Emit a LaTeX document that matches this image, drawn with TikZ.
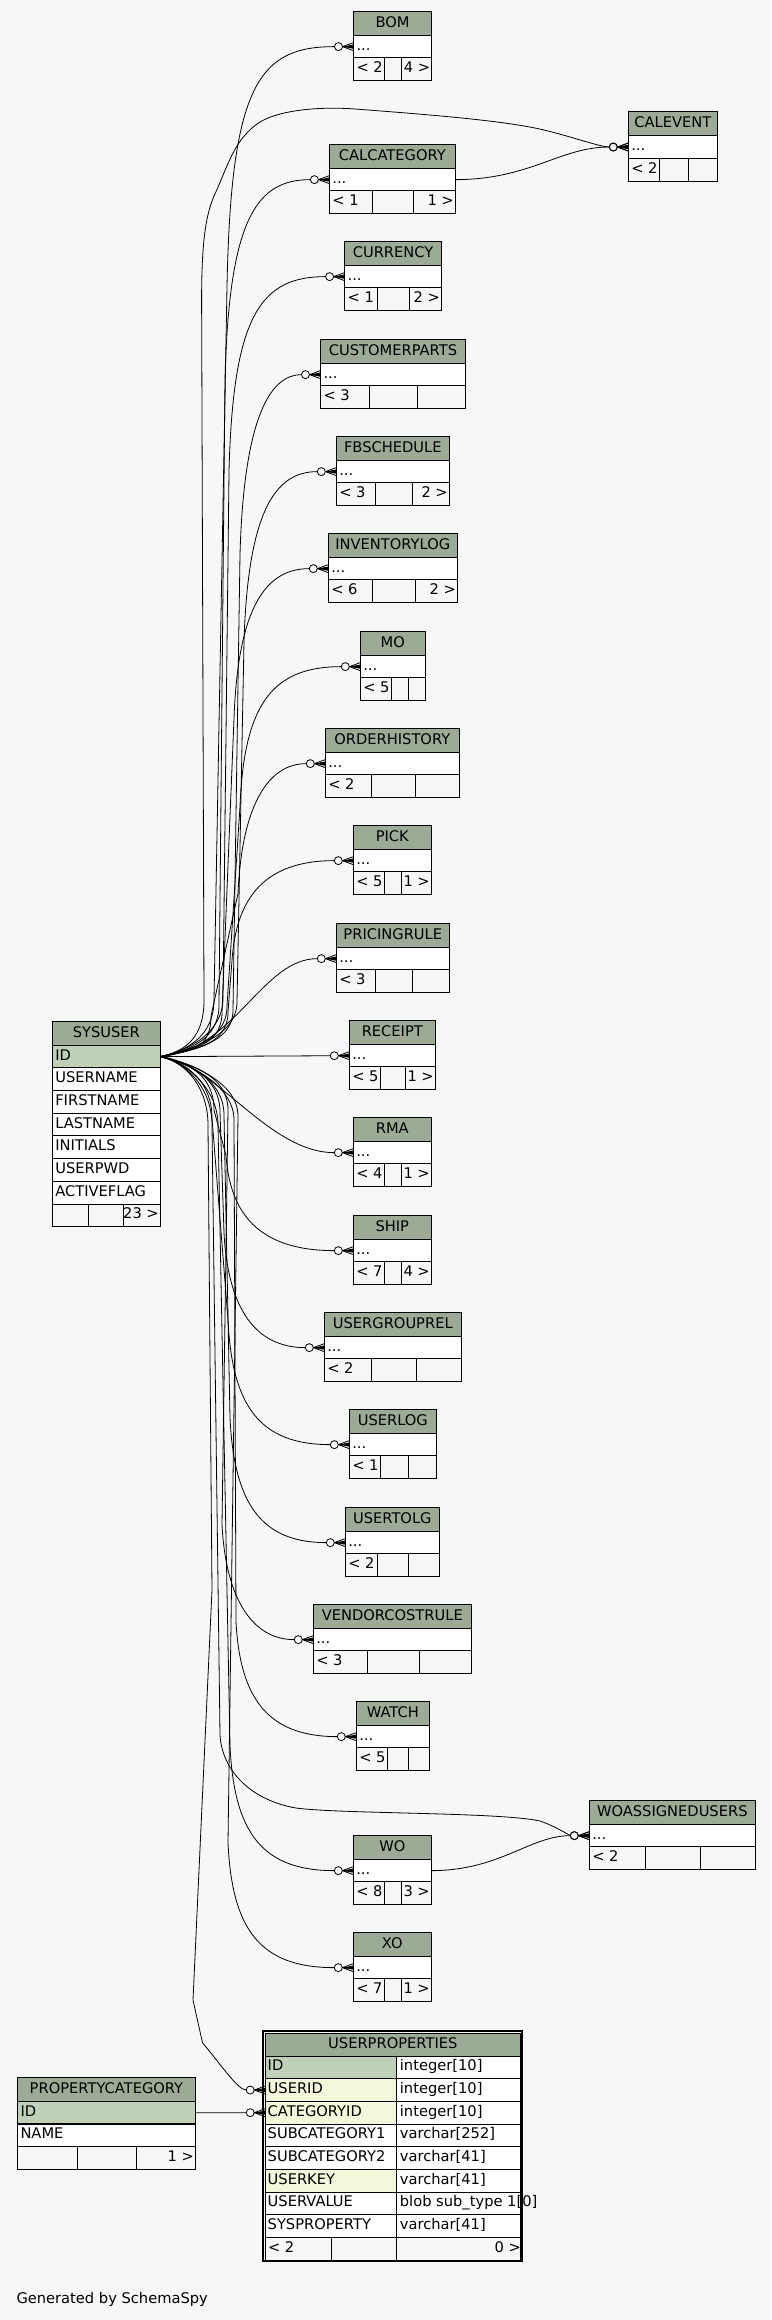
\documentclass[tikz,border=0pt]{standalone}
\usepackage{fontspec}
\setmainfont{DejaVu Sans}
\usetikzlibrary{calc,arrows.meta}
\definecolor{hdr}{HTML}{9BAB96}
\definecolor{pk}{HTML}{BED1B8}
\definecolor{idx}{HTML}{F4F7DA}
\definecolor{bg}{HTML}{F7F7F7}
\pgfdeclarearrow{
  name = CrowO,
  setup code = {
    \pgfarrowssettipend{0pt}
    \pgfarrowssetlineend{-14.25pt}
    \pgfarrowssetbackend{-14.25pt}
    \pgfarrowshullpoint{0pt}{3pt}
    \pgfarrowshullpoint{0pt}{-3pt}
    \pgfarrowshullpoint{-14.25pt}{3pt}
    \pgfarrowshullpoint{-14.25pt}{-3pt}
  },
  drawing code = {
    \pgfsetdash{}{0pt}
    \pgfpathcircle{\pgfpoint{-11.25pt}{0pt}}{3pt}
    \pgfusepathqstroke
    \pgfpathmoveto{\pgfpoint{-8.25pt}{0pt}}
    \pgfpathlineto{\pgfpoint{0pt}{3pt}}
    \pgfpathmoveto{\pgfpoint{-8.25pt}{0pt}}
    \pgfpathlineto{\pgfpoint{0pt}{0pt}}
    \pgfpathmoveto{\pgfpoint{-8.25pt}{0pt}}
    \pgfpathlineto{\pgfpoint{0pt}{-3pt}}
    \pgfusepathqstroke
    \pgfpathmoveto{\pgfpoint{-8.25pt}{0pt}}
    \pgfpathlineto{\pgfpoint{0pt}{1.6pt}}
    \pgfpathlineto{\pgfpoint{0pt}{-1.6pt}}
    \pgfpathclose
    \pgfusepathqfill
  }
}
\tikzset{
  tbl/.style={draw=black, line width=0.75pt},
  hdrcell/.style={draw=black, line width=0.75pt, fill=hdr, inner sep=0pt, outer sep=0pt, minimum height=18pt},
  rowcell/.style={draw=black, line width=0.75pt, fill=white, inner sep=0pt, outer sep=0pt, minimum height=17pt},
  txt/.style={font=\fontsize{11pt}{13pt}\selectfont, inner sep=0pt, outer sep=0pt},
  rel/.style={draw=black, line width=0.6pt, -{CrowO}},
}
% simple table: name, x, ytop, width, title, div1, div2, left footer, right footer
\newcommand\mktable[9]{%
  \node[hdrcell, minimum width={#4*0.75pt}, anchor=north west] (#1) at (#2,#3) {};
  \node[txt, anchor=base] at ($(#1.center)+(0,4)$) {#5};
  \node[rowcell, minimum width={#4*0.75pt}, anchor=north west] (#1-r) at (#2,{#3+24}) {};
  \node[txt, anchor=base west] at ($(#1-r.west)+(3,3.6)$) {...};
  \draw[tbl] (#2,{#3+46.67}) rectangle (#6,{#3+69.33}) (#6,{#3+46.67}) rectangle (#7,{#3+69.33}) (#7,{#3+46.67}) rectangle ({#2+#4},{#3+69.33});
  \node[txt, anchor=base west] at ({#2+3},{#3+61.6}) {#8};
  \node[txt, anchor=base east] at ({#2+#4-1.5},{#3+61.6}) {#9};
}
% upward edge from SYSUSER.ID: target, Ty, xa, ya, xt, L
\newcommand\mkup[6]{%
  \draw[rel] (su-id.east) .. controls +(28,-6) and (#3,{#4+35}) .. (#3,#4) -- (#5,{#2+#6}) .. controls ({#5+4},{#2+38}) and ({#5+32},#2) .. (#1-r.west);}
\newcommand\mkdown[6]{%
  \draw[rel] (su-id.east) .. controls +(28,6) and (#3,{#4-35}) .. (#3,#4) -- (#5,{#2-#6}) .. controls ({#5+4},{#2-38}) and ({#5+32},#2) .. (#1-r.west);}
% USERPROPERTIES row: node, ytop, fill, name, type
\newcommand\mkuprow[5]{%
  \node[rowcell, fill=#3, minimum width=98.4pt, anchor=north west] (#1) at (265.2,#2) {};
  \node[rowcell, minimum width=93pt, anchor=north west] (#1-t) at (396.4,#2) {};
  \node[txt, anchor=base west] at ($(#1.west)+(2.5,3.6)$) {#4};
  \node[txt, anchor=base west] at ($(#1-t.west)+(3.5,3.6)$) {#5};
}
\begin{document}
\begin{tikzpicture}[x=0.75pt,y=-0.75pt]
\useasboundingbox (0,0) rectangle (771,2320);
\fill[bg] (0,0) rectangle (771,2320);

% ---- simple tables ----
\mktable{bom}{353.5}{11.3}{78.2}{BOM}{384.5}{401.7}{< 2}{4 >}
\mktable{cev}{628.3}{111.7}{89}{CALEVENT}{659.3}{688.3}{< 2}{}
\mktable{cal}{329.4}{144.3}{125.9}{CALCATEGORY}{372.7}{413.5}{< 1}{1 >}
\mktable{cur}{344.6}{241.3}{96.9}{CURRENCY}{377.6}{409.5}{< 1}{2 >}
\mktable{cus}{320.5}{339.3}{145}{CUSTOMERPARTS}{369.7}{417.7}{< 3}{}
\mktable{fbs}{336.3}{436.3}{113}{FBSCHEDULE}{375.3}{412.3}{< 3}{2 >}
\mktable{inv}{328.3}{533.3}{129}{INVENTORYLOG}{372.3}{415.3}{< 6}{2 >}
\mktable{mo}{360.3}{631.3}{65}{MO}{391.3}{408.7}{< 5}{}
\mktable{ord}{325.3}{728.3}{134}{ORDERHISTORY}{371.3}{415.3}{< 2}{}
\mktable{pick}{353.3}{825.3}{78}{PICK}{384.3}{401.7}{< 5}{1 >}
\mktable{prc}{336.3}{923.3}{113}{PRICINGRULE}{375.3}{412.3}{< 3}{}
\mktable{rec}{349.3}{1020.3}{86}{RECEIPT}{380.3}{405.3}{< 5}{1 >}
\mktable{rma}{353.3}{1117.3}{78}{RMA}{384.3}{401.7}{< 4}{1 >}
\mktable{ship}{353.3}{1215.3}{78}{SHIP}{384.3}{401.7}{< 7}{4 >}
\mktable{ugr}{324.3}{1312.3}{137}{USERGROUPREL}{371.3}{416.3}{< 2}{}
\mktable{ulog}{349.3}{1409.3}{87}{USERLOG}{380.3}{408.3}{< 1}{}
\mktable{utolg}{345.3}{1507.3}{94}{USERTOLG}{377.3}{408.3}{< 2}{}
\mktable{vcr}{313.3}{1604.3}{158}{VENDORCOSTRULE}{367.3}{419.3}{< 3}{}
\mktable{watch}{356.3}{1701.3}{73}{WATCH}{387.3}{408.3}{< 5}{}
\mktable{woa}{589.3}{1800.3}{166}{WOASSIGNEDUSERS}{645.3}{700.3}{< 2}{}
\mktable{wo}{353.3}{1835.3}{78}{WO}{384.3}{401.7}{< 8}{3 >}
\mktable{xo}{353.3}{1932.3}{78}{XO}{384.3}{401.7}{< 7}{1 >}

% ---- SYSUSER ----
\node[hdrcell, minimum width=81pt, anchor=north west] (su) at (52.3,1021.3) {};
\node[txt, anchor=base] at ($(su.center)+(0,4)$) {SYSUSER};
\node[rowcell, fill=pk, minimum width=81pt, anchor=north west] (su-id) at (52.3,1045.3) {};
\node[txt, anchor=base west] at ($(su-id.west)+(3,3.6)$) {ID};
\foreach \t [count=\i] in {USERNAME,FIRSTNAME,LASTNAME,INITIALS,USERPWD,ACTIVEFLAG}{
  \node[rowcell, minimum width=81pt, anchor=north west] (su-\i) at (52.3,{1045.3+\i*22.67}) {};
  \node[txt, anchor=base west] at ($(su-\i.west)+(3,3.6)$) {\t};
}
\draw[tbl] (52.3,1204) rectangle (88.3,1226.7) (88.3,1204) rectangle (123.3,1226.7) (123.3,1204) rectangle (160.3,1226.7);
\node[txt, anchor=base east] at (158.8,1218.9) {23 >};

% ---- PROPERTYCATEGORY ----
\node[hdrcell, minimum width=133.4pt, minimum height=17.7pt, anchor=north west] (pc) at (17.5,2077.7) {};
\node[txt, anchor=base] at ($(pc.center)+(0,4)$) {PROPERTYCATEGORY};
\node[rowcell, fill=pk, minimum width=133.4pt, anchor=north west] (pc-id) at (17.5,2101.3) {};
\node[txt, anchor=base west] at ($(pc-id.west)+(3,3.6)$) {ID};
\node[rowcell, minimum width=133.4pt, anchor=north west] (pc-name) at (17.5,2124) {};
\node[txt, anchor=base west] at ($(pc-name.west)+(3,3.6)$) {NAME};
\draw[tbl] (17.5,2146.7) rectangle (77.5,2169.3) (77.5,2146.7) rectangle (136.4,2169.3) (136.4,2146.7) rectangle (195.4,2169.3);
\node[txt, anchor=base east] at (193.9,2161.6) {1 >};

% ---- USERPROPERTIES ----
\draw[draw=black, line width=1.5pt] (263,2031) rectangle (522.3,2260.9);
\node[hdrcell, minimum width=191.4pt, minimum height=17.25pt, anchor=north west] (upr) at (265.2,2033) {};
\node[txt, anchor=base] at ($(upr.center)+(0,4)$) {USERPROPERTIES};
\mkuprow{upr-id}{2056}{pk}{ID}{integer[10]}
\mkuprow{upr-uid}{2078.67}{idx}{USERID}{integer[10]}
\mkuprow{upr-cid}{2101.33}{idx}{CATEGORYID}{integer[10]}
\mkuprow{upr-s1}{2124}{white}{SUBCATEGORY1}{varchar[252]}
\mkuprow{upr-s2}{2146.67}{white}{SUBCATEGORY2}{varchar[41]}
\mkuprow{upr-key}{2169.33}{idx}{USERKEY}{varchar[41]}
\mkuprow{upr-val}{2192}{white}{USERVALUE}{blob sub\_type 1[0]}
\mkuprow{upr-sys}{2214.67}{white}{SYSPROPERTY}{varchar[41]}
\draw[tbl] (265.2,2237.33) rectangle (331.4,2260) (331.4,2237.33) rectangle (396.4,2260) (396.4,2237.33) rectangle (520.4,2260);
\node[txt, anchor=base west] at (268,2252.2) {< 2};
\node[txt, anchor=base east] at (521,2252.2) {0 >};

\node[txt, anchor=base west] (gen) at (16.5,2303) {Generated by SchemaSpy};

% ---- connectors ----
\mkup{bom}{46.6}{214}{1000}{227}{240}
\mkup{cal}{179.6}{219}{1005}{225}{200}
\mkup{cur}{276.6}{223}{998}{229}{195}
\mkup{cus}{374.6}{233}{1010}{240}{180}
\mkup{fbs}{471.6}{237}{1002}{244}{170}
\mkup{inv}{568.6}{222}{1012}{234}{150}
\mkup{mo}{666.6}{227}{1006}{240}{140}
\mkup{ord}{763.6}{211}{1016}{238}{130}
\mkup{pick}{860.6}{228}{1012}{232}{100}
\draw[rel] (su-id.east) .. controls (235,1050) and (262,958.6) .. (prc-r.west);
\draw[rel] (su-id.east) -- (rec-r.west);
\draw[rel] (su-id.east) .. controls (215,1062) and (268,1152.6) .. (rma-r.west);
\mkdown{ship}{1250.6}{214}{1110}{226}{95}
\mkdown{ugr}{1347.6}{220}{1112}{224}{115}
\mkdown{ulog}{1444.6}{212}{1118}{228}{125}
\mkdown{utolg}{1542.6}{224}{1115}{230}{125}
\mkdown{vcr}{1639.6}{228}{1110}{222}{115}
\mkdown{watch}{1736.6}{234}{1120}{236}{115}
\mkdown{wo}{1870.6}{218}{1125}{230}{125}
\mkdown{xo}{1967.6}{238}{1116}{228}{125}
% SYSUSER -> CALEVENT
\draw[rel] (su-id.east) .. controls +(28,-6) and (204,1035) .. (204,1000) -- (201.6,300)
  .. controls (201.6,240) and (206,212) .. (216,191.7)
  .. controls (228,165) and (235,138) .. (260,122)
  .. controls (280,110) and (320,106) .. (359,109.3)
  .. controls (420,114) and (500,120) .. (541,129.3)
  .. controls (570,136) and (600,147) .. (cev-r.west);
% CALCATEGORY -> CALEVENT
\draw[rel] (cal-r.east) .. controls (530,179.6) and (560,147) .. (cev-r.west);
% SYSUSER -> WOASSIGNEDUSERS
\draw[rel] (su-id.east) .. controls +(28,6) and (212,1090) .. (212,1125) -- (220,1735)
  .. controls (222,1770) and (250,1800) .. (296,1808)
  .. controls (340,1814) and (500,1812) .. (540,1821)
  .. controls (555,1826) and (570,1835.6) .. (woa-r.west);
% WO -> WOASSIGNEDUSERS
\draw[rel] (wo-r.east) .. controls (500,1870.6) and (530,1835.6) .. (woa-r.west);
% SYSUSER -> USERPROPERTIES.USERID
\draw[rel] (su-id.east) .. controls +(28,6) and (208,1090) .. (208,1125) -- (212,1590) -- (193,2000) -- (202.5,2042.7)
  .. controls (222,2066) and (238,2090) .. (upr-uid.west);
% PROPERTYCATEGORY -> USERPROPERTIES.CATEGORYID
\draw[rel] (pc-id.east) -- (upr-cid.west);
\end{tikzpicture}
\end{document}
